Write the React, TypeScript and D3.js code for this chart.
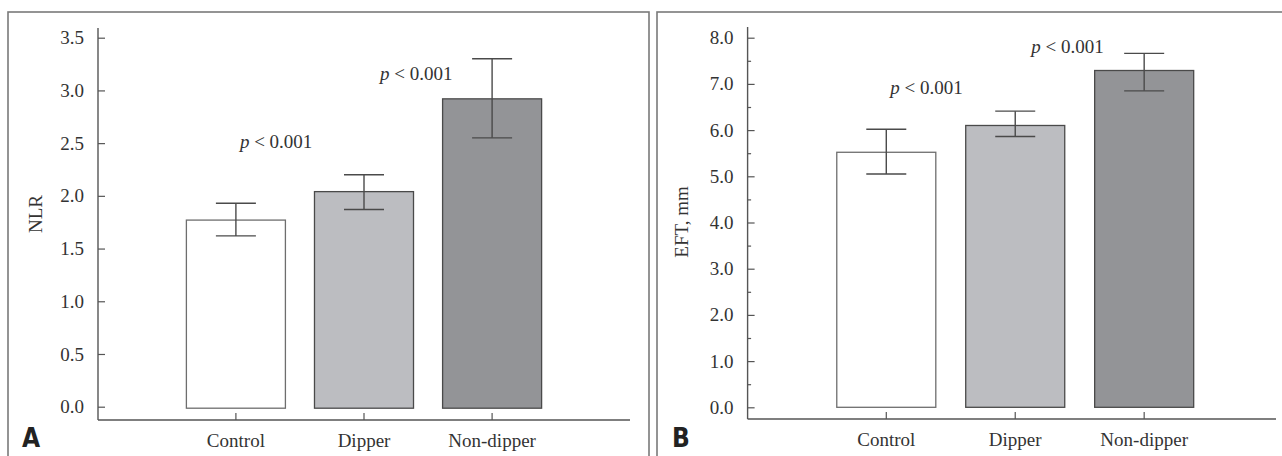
import React, { useEffect, useRef } from "react";
import * as d3 from "d3";

// grupos
const groups = ["Control", "Dipper", "Non-dipper"];

// panel A: NLR
const nlrMean = [1.77, 2.04, 2.92];
const nlrLow = [1.62, 1.87, 2.55];
const nlrHigh = [1.93, 2.2, 3.3];
const nlrTicks = [0, 0.5, 1, 1.5, 2, 2.5, 3, 3.5];

// panel B: EFT
const eftMean = [5.52, 6.1, 7.29];
const eftLow = [5.05, 5.86, 6.85];
const eftHigh = [6.02, 6.41, 7.66];
const eftTicks = [0, 1, 2, 3, 4, 5, 6, 7, 8];
const eftMinor = [0.5, 1.5, 2.5, 3.5, 4.5, 5.5, 6.5, 7.5];

// anotaciones p
const pTextA = [
  { label: "p", rest: " < 0.001", group: "Control", value: 2.45 },
  { label: "p", rest: " < 0.001", group: "Dipper", value: 3.1 },
];
const pTextB = [
  { label: "p", rest: " < 0.001", group: "Control", value: 6.78 },
  { label: "p", rest: " < 0.001", group: "Dipper", value: 7.67 },
];

const fills = ["#ffffff", "#bcbdc1", "#939497"];
const strokes = ["#6e6e6e", "#4a4a4a", "#4a4a4a"];
const serif = "'Liberation Serif', 'Times New Roman', serif";

function drawPanel(svg, cfg) {
  const g = svg.append("g");

  // marco del panel
  g.append("rect")
    .attr("x", cfg.frame[0])
    .attr("y", 12)
    .attr("width", cfg.frame[1] - cfg.frame[0])
    .attr("height", 500)
    .attr("fill", "none")
    .attr("stroke", "#7a7a7a")
    .attr("stroke-width", 1.6);

  const x = d3
    .scaleBand()
    .domain(groups)
    .range([cfg.left, cfg.right])
    .paddingInner(cfg.padInner)
    .paddingOuter(cfg.padOuter)
    .align(cfg.align);

  const y = d3.scaleLinear().domain(cfg.domain).range(cfg.yRange);

  // barras
  g.selectAll(".bar")
    .data(cfg.mean)
    .enter()
    .append("rect")
    .attr("x", (_, i) => x(groups[i]))
    .attr("y", (d) => y(d))
    .attr("width", x.bandwidth())
    .attr("height", (d) => y(0) - y(d) + cfg.baseNudge)
    .attr("fill", (_, i) => fills[i])
    .attr("stroke", (_, i) => strokes[i])
    .attr("stroke-width", 1.3);

  // barras de error
  const cap = 20;
  cfg.mean.forEach((_, i) => {
    const cx = x(groups[i]) + x.bandwidth() / 2;
    const eg = g.append("g").attr("stroke", "#4a4a4a").attr("stroke-width", 1.4);
    eg.append("line").attr("x1", cx).attr("x2", cx).attr("y1", y(cfg.high[i])).attr("y2", y(cfg.low[i]));
    eg.append("line").attr("x1", cx - cap).attr("x2", cx + cap).attr("y1", y(cfg.high[i])).attr("y2", y(cfg.high[i]));
    eg.append("line").attr("x1", cx - cap).attr("x2", cx + cap).attr("y1", y(cfg.low[i])).attr("y2", y(cfg.low[i]));
  });

  // ejes
  const axisColor = "#555";
  g.append("line")
    .attr("x1", cfg.left)
    .attr("x2", cfg.left)
    .attr("y1", cfg.axisTop)
    .attr("y2", cfg.axisY)
    .attr("stroke", axisColor)
    .attr("stroke-width", 1.4);
  g.append("line")
    .attr("x1", cfg.left)
    .attr("x2", cfg.xEnd)
    .attr("y1", cfg.axisY)
    .attr("y2", cfg.axisY)
    .attr("stroke", axisColor)
    .attr("stroke-width", 1.4);

  const yAxis = g
    .append("g")
    .attr("transform", `translate(${cfg.left},0)`)
    .call(
      d3
        .axisLeft(y)
        .tickValues(cfg.ticks)
        .tickFormat(d3.format(".1f"))
        .tickSize(-7)
        .tickPadding(14)
    );
  yAxis.select(".domain").remove();
  yAxis.selectAll("line").attr("stroke", axisColor).attr("stroke-width", 1.2);
  yAxis
    .selectAll("text")
    .attr("fill", "#333")
    .style("font-family", serif)
    .style("font-size", "19px");

  if (cfg.minor) {
    const mAxis = g
      .append("g")
      .attr("transform", `translate(${cfg.left},0)`)
      .call(d3.axisLeft(y).tickValues(cfg.minor).tickFormat(() => "").tickSize(-3.5));
    mAxis.select(".domain").remove();
    mAxis.selectAll("line").attr("stroke", axisColor).attr("stroke-width", 1.2);
  }

  const xAxis = g
    .append("g")
    .attr("transform", `translate(0,${cfg.axisY})`)
    .call(d3.axisBottom(x).tickSize(-7).tickPadding(20));
  xAxis.select(".domain").remove();
  xAxis.selectAll("line").attr("stroke", axisColor).attr("stroke-width", 1.2);
  xAxis
    .selectAll("text")
    .attr("fill", "#333")
    .attr("dy", 0)
    .attr("y", 27)
    .style("font-family", serif)
    .style("font-size", "19px");

  // título del eje Y
  g.append("text")
    .attr("transform", `translate(${cfg.titleX},${cfg.titleY}) rotate(-90)`)
    .attr("text-anchor", "middle")
    .attr("fill", "#333")
    .style("font-family", serif)
    .style("font-size", "19px")
    .text(cfg.title);

  // textos p
  cfg.pText.forEach((p, i) => {
    const t = g
      .append("text")
      .attr("x", x(p.group) + x.bandwidth() / 2 + (i === 0 ? 4 : 16))
      .attr("y", y(p.value))
      .attr("fill", "#333")
      .style("font-family", serif)
      .style("font-size", "19px");
    t.append("tspan").style("font-style", "italic").text(p.label);
    t.append("tspan").text(p.rest);
  });

  // letra del panel
  g.append("text")
    .attr("x", cfg.letterX)
    .attr("y", 447)
    .attr("fill", "#222")
    .style("font-family", "'DejaVu Sans Condensed', 'DejaVu Sans', sans-serif")
    .style("font-stretch", "condensed")
    .style("font-weight", "bold")
    .style("font-size", "26px")
    .text(cfg.letter);
}

const App = () => {
  const svgRef = useRef(null);

  useEffect(() => {
    const svg = d3.select(svgRef.current);
    svg.selectAll("*").remove();

    drawPanel(svg, {
      frame: [8, 649],
      left: 98,
      right: 630,
      xEnd: 630,
      padInner: 0.227,
      padOuter: 0.69,
      align: 0.5,
      domain: [0, 3.5],
      yRange: [406.7, 37.7],
      axisTop: 28,
      axisY: 420,
      baseNudge: 1.5,
      mean: nlrMean,
      low: nlrLow,
      high: nlrHigh,
      ticks: nlrTicks,
      minor: null,
      title: "NLR",
      titleX: 42,
      titleY: 214,
      pText: pTextA,
      letter: "A",
      letterX: 22,
    });

    drawPanel(svg, {
      frame: [657, 1300],
      left: 747.6,
      right: 1276,
      xEnd: 1276,
      padInner: 0.232,
      padOuter: 0.665,
      align: 0.52,
      domain: [0, 8],
      yRange: [407.3, 37.7],
      axisTop: 27,
      axisY: 419,
      baseNudge: 0,
      mean: eftMean,
      low: eftLow,
      high: eftHigh,
      ticks: eftTicks,
      minor: eftMinor,
      title: "EFT, mm",
      titleX: 688,
      titleY: 222,
      pText: pTextB,
      letter: "B",
      letterX: 672,
    });
  }, []);

  return (
    <svg
      ref={svgRef}
      width={1282}
      height={456}
      style={{ position: "absolute", left: 0, top: 0, background: "#fff" }}
    ></svg>
  );
};

export default App;
